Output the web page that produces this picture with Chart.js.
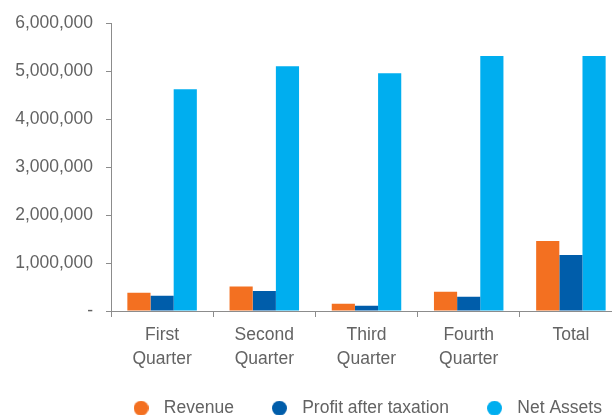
<!DOCTYPE html>
<html>
<head>
<meta charset="utf-8">
<script src="https://cdn.jsdelivr.net/npm/chart.js@4"></script>
<style>
  html, body { margin: 0; padding: 0; background: #fff; overflow: hidden; }
  canvas { display: block; }
</style>
</head>
<body>
<canvas id="my-chart" width="622" height="415"></canvas>
<script>
const categories = [["First", "Quarter"], ["Second", "Quarter"], ["Third", "Quarter"], ["Fourth", "Quarter"], "Total"];
const revenue = [380000, 510000, 150000, 400000, 1460000];
const profit = [320000, 420000, 110000, 300000, 1170000];
const netAssets = [4630000, 5110000, 4960000, 5320000, 5320000];
const seriesNames = ["Revenue", "Profit after taxation", "Net Assets"];
const colors = ["#F37021", "#005DAA", "#00AEEF"];

const textColor = "#636363";
const axisColor = "#8c8c8c";
Chart.defaults.font.family = "'Liberation Sans', Arial, sans-serif";
Chart.defaults.font.size = 17.5;
Chart.defaults.color = textColor;

// little round markers for the legend, drawn as images so the gap to the text can be wider
function dot(color) {
  const c = document.createElement("canvas");
  c.width = 15; c.height = 15;
  const g = c.getContext("2d");
  g.fillStyle = color;
  g.beginPath();
  g.arc(7.5, 7.5, 7.5, 0, Math.PI * 2);
  g.fill();
  return c;
}
const dots = colors.map(dot);

// legend sits under the plot area, not centred on the whole canvas
// and the x labels may run down past the axis box (they are clipped to it otherwise)
const moveLegend = {
  id: "moveLegend",
  afterLayout(chart) {
    const lg = chart.legend;
    lg.left = chart.chartArea.left - 23;
    lg.right = chart.chartArea.right + 19;
    lg.width = lg.right - lg.left;
    lg.top = lg.top + 12;
    lg.bottom = lg.top + lg.height;
    chart.scales.x.bottom = chart.height;
  }
};

const ctx = document.getElementById("my-chart").getContext("2d");
const myChart = new Chart(ctx, {
  type: "bar",
  data: {
    labels: categories,
    datasets: [
      { label: seriesNames[0], data: revenue, backgroundColor: colors[0] },
      { label: seriesNames[1], data: profit, backgroundColor: colors[1] },
      { label: seriesNames[2], data: netAssets, backgroundColor: colors[2] }
    ]
  },
  options: {
    responsive: false,
    animation: false,
    devicePixelRatio: 1,
    datasets: { bar: { categoryPercentage: 0.68, barPercentage: 1.0 } },
    layout: { padding: { top: 23, left: 0, right: 0, bottom: 0 } },
    scales: {
      x: {
        offset: true,
        grid: { offset: true, drawOnChartArea: false, drawTicks: true, tickLength: 6, color: axisColor },
        border: { color: axisColor, width: 1 },
        ticks: { padding: 6, maxRotation: 0, autoSkip: false, font: { lineHeight: 1.37 } },
        afterFit(scale) { scale.height = 45; }
      },
      y: {
        min: 0,
        max: 6000000,
        grid: { drawOnChartArea: false, drawTicks: true, tickLength: 5, color: axisColor },
        border: { color: axisColor, width: 1 },
        ticks: {
          stepSize: 1000000,
          padding: 13,
          callback: v => v === 0 ? "-" : v.toLocaleString("en-US")
        },
        afterFit(scale) { scale.width = 111; }
      }
    },
    plugins: {
      tooltip: { enabled: false },
      legend: {
        position: "bottom",
        labels: {
          usePointStyle: true,
          pointStyleWidth: 28,
          padding: 31.5,
          color: textColor,
          generateLabels(chart) {
            const items = Chart.defaults.plugins.legend.labels.generateLabels(chart);
            items.forEach((it, i) => { it.pointStyle = dots[i]; });
            return items;
          }
        }
      }
    }
  },
  plugins: [moveLegend]
});
</script>
</body>
</html>
